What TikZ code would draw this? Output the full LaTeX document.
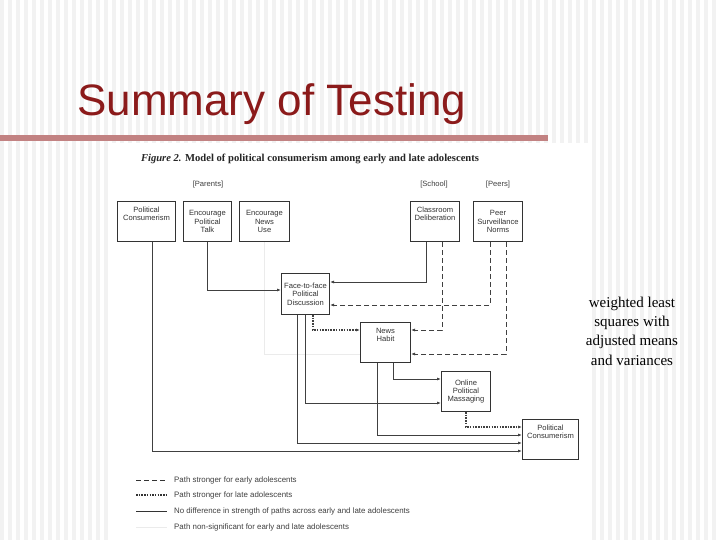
\documentclass[tikz,border=0pt]{standalone}
\usepackage{fontspec}
\setmainfont{Liberation Sans}
\newfontfamily\serifr{Liberation Serif}
\usetikzlibrary{arrows.meta}
\definecolor{titlered}{HTML}{8B1A1A}
\definecolor{barred}{HTML}{C28282}
\begin{document}
\begin{tikzpicture}[x=1pt,y=-1pt,
  bx/.style={draw=black!80,line width=1pt,fill=white,align=center,font=\fontsize{7.6}{8.4}\selectfont,inner sep=1pt,text=black!80},
  ar/.style={-{Latex[length=4pt,width=3pt]},black!75,line width=0.8pt},
  dsh/.style={ar,dash pattern=on 5pt off 3pt,line width=1pt},
  dot/.style={ar,dash pattern=on 1.5pt off 1.2pt,line width=1.8pt},
  faint/.style={draw=black!8,line width=0.8pt},
  lab/.style={font=\fontsize{7.9}{8}\selectfont,text=black!75,anchor=west,inner sep=0}]
\useasboundingbox (0,0) rectangle (720,540);
\fill[white] (0,0) rectangle (720,540);
\foreach \i in {0,...,89} \fill[black!5] (\i*8,0) rectangle (\i*8+4,540);
\fill[white] (112,143) rectangle (590,540);
\node[anchor=base west,inner sep=0,text=titlered,font=\fontsize{44}{44}\selectfont] (title) at (77,116) {Summary of Testing};
\fill[barred] (0,135) rectangle (548,141);
\node[font=\serifr\fontsize{10.6}{11}\selectfont\bfseries,inner sep=0,text=black!85] (cap) at (310,159) {\textit{Figure 2.} Model of political consumerism among early and late adolescents};
\node[font=\fontsize{7.6}{8}\selectfont,text=black!75] (lp) at (208,185) {[Parents]};
\node[font=\fontsize{7.6}{8}\selectfont,text=black!75] (ls) at (434,185) {[School]};
\node[font=\fontsize{7.6}{8}\selectfont,text=black!75] (lr) at (498,185) {[Peers]};
% boxes
\node[bx,minimum width=58pt,minimum height=40pt,anchor=north west] (pc1) at (117,201) {Political\\Consumerism\\[7pt]};
\node[bx,minimum width=48pt,minimum height=40pt,anchor=north west] (ept) at (183,201) {Encourage\\Political\\Talk};
\node[bx,minimum width=50pt,minimum height=40pt,anchor=north west] (enu) at (239,201) {Encourage\\News\\Use};
\node[bx,minimum width=49pt,minimum height=40pt,anchor=north west] (cd) at (410,201) {Classroom\\Deliberation\\[7pt]};
\node[bx,minimum width=49pt,minimum height=40pt,anchor=north west] (psn) at (473,201) {Peer\\Surveillance\\Norms};
\node[bx,minimum width=48pt,minimum height=41pt,anchor=north west] (ff) at (281,273) {Face-to-face\\Political\\Discussion};
\node[bx,minimum width=50pt,minimum height=40pt,anchor=north west] (nh) at (360,322) {News\\Habit\\[7pt]};
\node[bx,minimum width=49pt,minimum height=40pt,anchor=north west] (opm) at (441,371) {Online\\Political\\Massaging};
\node[bx,minimum width=56pt,minimum height=40pt,anchor=north west] (pc2) at (522,419) {Political\\Consumerism\\[7pt]};
% faint
\draw[faint] (enu.south) |- (nh.west |- 0,354);
% edges
\draw[ar] (ept.south) |- (ff.west |- 0,290);
\draw[ar] (cd.south -| 426,0) |- (ff.east |- 0,282);
\draw[dsh] (cd.south -| 442,0) |- (nh.east |- 0,330);
\draw[dsh] (psn.south -| 490,0) |- (ff.east |- 0,305);
\draw[dsh] (psn.south -| 506,0) |- (nh.east |- 0,354);
\draw[dot] (ff.south -| 313,0) |- (nh.west |- 0,330);
\draw[ar] (ff.south -| 297,0) |- (pc2.west |- 0,443);
\draw[ar] (ff.south -| 305,0) |- (opm.west |- 0,403);
\draw[ar] (nh.south -| 393,0) |- (opm.west |- 0,379);
\draw[ar] (nh.south -| 377,0) |- (pc2.west |- 0,435);
\draw[dot] (opm.south -| 466,0) |- (pc2.west |- 0,427);
\draw[ar] (pc1.south -| 152,0) |- (pc2.west |- 0,451);
% legend
\coordinate (l1) at (136,480); \coordinate (l2) at (136,495); \coordinate (l3) at (136,511); \coordinate (l4) at (136,527);
\draw[black!80,dash pattern=on 5pt off 3pt,line width=1pt] (l1) -- ++(31,0);
\draw[black!80,dash pattern=on 1.5pt off 1.2pt,line width=1.8pt] (l2) -- ++(31,0);
\draw[black!80,line width=0.8pt] (l3) -- ++(31,0);
\draw[black!8,line width=0.8pt] (l4) -- ++(31,0);
\node[lab] (t1) at (174,480) {Path stronger for early adolescents};
\node[lab] (t2) at (174,495) {Path stronger for late adolescents};
\node[lab] (t3) at (174,511) {No difference in strength of paths across early and late adolescents};
\node[lab] (t4) at (174,527) {Path non-significant for early and late adolescents};
\node[font=\serifr\fontsize{15}{19.3}\selectfont,align=center] (rt) at (632,331) {weighted least\\squares with\\adjusted means\\and variances};
\end{tikzpicture}
\end{document}
